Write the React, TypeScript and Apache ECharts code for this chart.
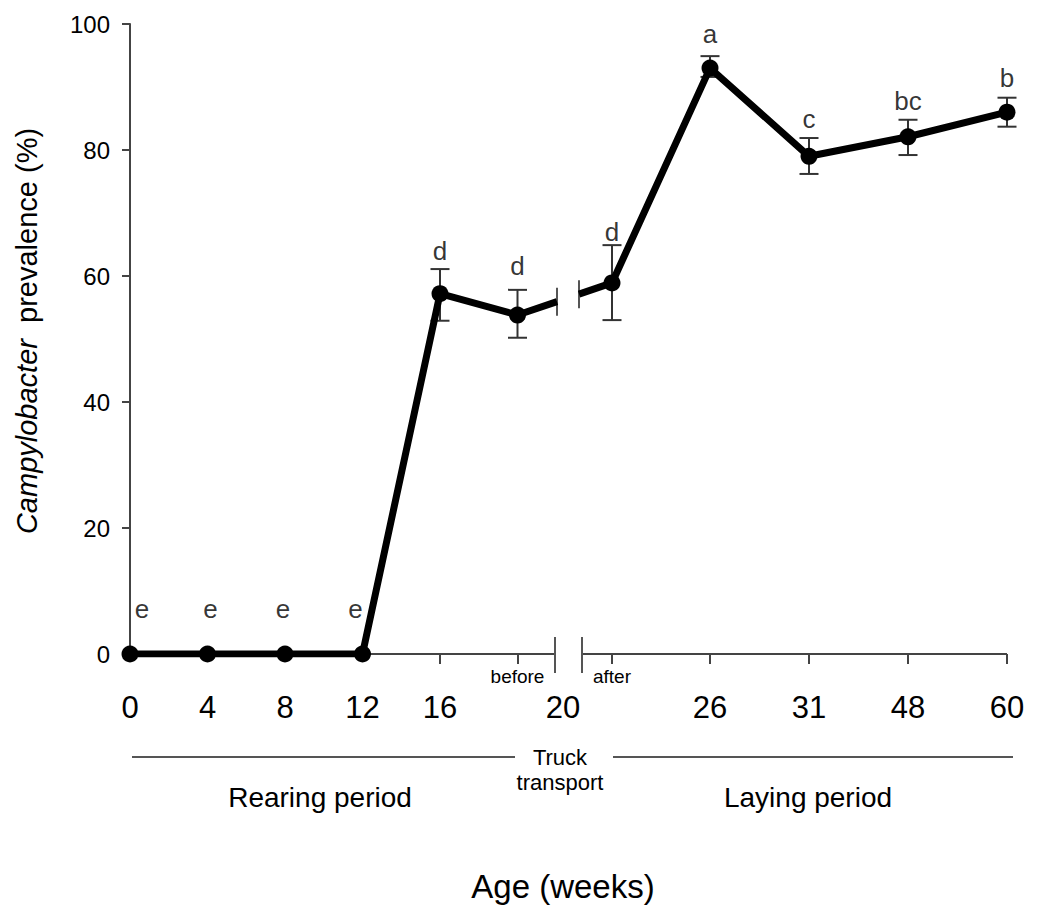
import React, { useEffect, useRef } from "react";
import * as echarts from "echarts";

// ---- data ----
const pointLabels = ["0", "4", "8", "12", "16", "before", "after", "26", "31", "48", "60"];
// horizontal slot of each sampling (axis units; the axis is broken around week 20)
const pointSlot = [0, 77.5, 155, 232.5, 310, 387.5, 482, 580, 679, 778, 877];
const prevalence = [0, 0, 0, 0, 57.2, 53.8, 58.9, 93.0, 79.0, 82.1, 86.0];
const errLow = [null, null, null, null, 52.9, 50.2, 53.0, 91.6, 76.2, 79.2, 83.7];
const errHigh = [null, null, null, null, 61.1, 57.8, 64.9, 94.9, 81.9, 84.8, 88.3];
const letters = ["e", "e", "e", "e", "d", "d", "d", "a", "c", "bc", "b"];
const letterLevel = [7.1, 7.1, 7.1, 7.1, 64.0, 61.6, 67.0, 98.4, 84.9, 87.8, 91.4];

const weekTickLabels = ["0", "4", "8", "12", "16", "20", "26", "31", "48", "60"];
const weekTickSlot = [0, 77.5, 155, 232.5, 310, 433, 580, 679, 778, 877];
const subTickLabels = ["before", "after"];
const subTickSlot = [387.5, 482];
const tickSlot = [310, 387.5, 482, 580, 679, 778, 877];
const axisBreak = [425, 452];
const lineBreak = [427, 449];
const yTicks = [0, 20, 40, 60, 80, 100];

const FONT = "'Liberation Sans', Arial, Helvetica, sans-serif";
const AXIS_COLOR = "#444";
const TEXT_COLOR = "#000";
const LETTER_NUDGE: Record<number, number> = { 0: 12, 1: 3, 2: -2, 3: -7 };

export default function App() {
  const ref = useRef<HTMLDivElement>(null);

  useEffect(() => {
    const el = ref.current;
    if (!el) return;
    const chart = echarts.init(el, null, { renderer: "svg" });

    const bIdx = pointLabels.indexOf("before");
    const aIdx = pointLabels.indexOf("after");
    const slope = (prevalence[aIdx] - prevalence[bIdx]) / (pointSlot[aIdx] - pointSlot[bIdx]);
    const yAt = (x: number) => prevalence[bIdx] + slope * (x - pointSlot[bIdx]);

    const leftData: any[] = [];
    for (let i = 0; i <= bIdx; i++) leftData.push([pointSlot[i], prevalence[i]]);
    leftData.push({ value: [lineBreak[0], yAt(lineBreak[0])], symbol: "none" });
    const rightData: any[] = [{ value: [lineBreak[1], yAt(lineBreak[1])], symbol: "none" }];
    for (let i = aIdx; i < pointSlot.length; i++) rightData.push([pointSlot[i], prevalence[i]]);

    const errData: any[] = [];
    for (let i = 0; i < pointSlot.length; i++) {
      if (errLow[i] != null && errHigh[i] != null) errData.push([pointSlot[i], errLow[i], errHigh[i]]);
    }

    const letterData = letters.map((t, i) => ({
      value: [pointSlot[i], letterLevel[i]],
      name: t,
      label: LETTER_NUDGE[i] != null ? { offset: [LETTER_NUDGE[i], 0] } : undefined,
    }));

    const lineStyle = { color: "#000", width: 7 };
    const option: any = {
      animation: false,
      grid: { left: 130, top: 24, width: 877, height: 630, containLabel: false },
      xAxis: [
        {
          type: "value",
          min: 0,
          max: 877,
          axisLine: { show: false },
          splitLine: { show: false },
          axisTick: {
            show: true,
            customValues: tickSlot,
            length: 10,
            lineStyle: { color: AXIS_COLOR, width: 2 },
          },
          axisLabel: {
            customValues: weekTickSlot,
            formatter: (v: number) => {
              const k = weekTickSlot.findIndex((s) => Math.abs(s - v) < 0.01);
              return k >= 0 ? weekTickLabels[k] : "";
            },
            fontSize: 31,
            fontFamily: FONT,
            color: TEXT_COLOR,
            margin: 38,
          },
        },
        {
          type: "value",
          min: 0,
          max: 877,
          position: "bottom",
          axisLine: { show: false },
          axisTick: { show: false },
          splitLine: { show: false },
          axisLabel: {
            customValues: subTickSlot,
            formatter: (v: number) => {
              const k = subTickSlot.findIndex((s) => Math.abs(s - v) < 0.01);
              return k >= 0 ? subTickLabels[k] : "";
            },
            fontSize: 19,
            fontFamily: FONT,
            color: TEXT_COLOR,
            margin: 13,
          },
        },
      ],
      yAxis: {
        type: "value",
        min: 0,
        max: 100,
        interval: 20,
        axisLine: { show: true, lineStyle: { color: AXIS_COLOR, width: 2 } },
        axisTick: { show: true, length: 8, lineStyle: { color: AXIS_COLOR, width: 2 } },
        splitLine: { show: false },
        axisLabel: {
          fontSize: 24,
          fontFamily: FONT,
          color: TEXT_COLOR,
          margin: 20,
          formatter: (v: number) => (yTicks.includes(v) ? String(v) : ""),
        },
      },
      series: [
        {
          type: "custom",
          name: "error",
          z: 1,
          data: errData,
          encode: { x: 0, y: [1, 2] },
          renderItem: (params: any, api: any) => {
            const x = api.value(0);
            const lo = api.coord([x, api.value(1)]);
            const hi = api.coord([x, api.value(2)]);
            const w = 9.5;
            const st = { stroke: "#333", lineWidth: 2 };
            return {
              type: "group",
              children: [
                { type: "line", shape: { x1: lo[0], y1: lo[1], x2: hi[0], y2: hi[1] }, style: st },
                { type: "line", shape: { x1: lo[0] - w, y1: lo[1], x2: lo[0] + w, y2: lo[1] }, style: st },
                { type: "line", shape: { x1: hi[0] - w, y1: hi[1], x2: hi[0] + w, y2: hi[1] }, style: st },
              ],
            };
          },
        },
        {
          type: "line",
          name: "before transport",
          z: 3,
          data: leftData,
          symbol: "circle",
          symbolSize: 17,
          lineStyle,
          itemStyle: { color: "#000" },
        },
        {
          type: "line",
          name: "after transport",
          z: 3,
          data: rightData,
          symbol: "circle",
          symbolSize: 17,
          lineStyle,
          itemStyle: { color: "#000" },
        },
        {
          type: "scatter",
          name: "letters",
          z: 4,
          data: letterData,
          symbol: "circle",
          symbolSize: 1,
          itemStyle: { color: "rgba(0,0,0,0)" },
          label: {
            show: true,
            position: "inside",
            formatter: (p: any) => p.name,
            fontSize: 26,
            fontFamily: FONT,
            color: TEXT_COLOR,
          },
        },
      ],
    };
    chart.setOption(option);

    const px = (x: number, y: number) => chart.convertToPixel({ gridIndex: 0 }, [x, y]) as number[];
    const p0 = px(0, 0);
    const pBL = px(axisBreak[0], 0);
    const pBR = px(axisBreak[1], 0);
    const pEnd = px(877, 0);
    const lbL = px(lineBreak[0], yAt(lineBreak[0]));
    const lbR = px(lineBreak[1], yAt(lineBreak[1]));
    const axisSt = { stroke: AXIS_COLOR, lineWidth: 2 };
    const brkSt = { stroke: "#555", lineWidth: 2 };
    const textSt = (text: string, size: number) => ({
      text,
      fontSize: size,
      fontFamily: FONT,
      fill: TEXT_COLOR,
      align: "center",
      verticalAlign: "middle",
    });

    chart.setOption({
      graphic: [
        { type: "line", shape: { x1: p0[0], y1: p0[1], x2: pBL[0], y2: pBL[1] }, style: axisSt, z: 0 },
        { type: "line", shape: { x1: pBR[0], y1: pBR[1], x2: pEnd[0], y2: pEnd[1] }, style: axisSt, z: 0 },
        { type: "line", shape: { x1: pBL[0], y1: pBL[1] - 17, x2: pBL[0], y2: pBL[1] + 19 }, style: brkSt },
        { type: "line", shape: { x1: pBR[0], y1: pBR[1] - 17, x2: pBR[0], y2: pBR[1] + 19 }, style: brkSt },
        { type: "line", shape: { x1: lbL[0], y1: lbL[1] - 14, x2: lbL[0], y2: lbL[1] + 14 }, style: brkSt },
        { type: "line", shape: { x1: lbR[0], y1: lbR[1] - 14, x2: lbR[0], y2: lbR[1] + 14 }, style: brkSt },
        // period underline
        { type: "line", shape: { x1: 132, y1: 757, x2: 515, y2: 757 }, style: { stroke: "#555", lineWidth: 2 } },
        { type: "line", shape: { x1: 613, y1: 757, x2: 1013, y2: 757 }, style: { stroke: "#555", lineWidth: 2 } },
        { type: "text", x: 560, y: 757, style: textSt("Truck", 22) },
        { type: "text", x: 560, y: 782, style: textSt("transport", 22) },
        { type: "text", x: 320, y: 797, style: textSt("Rearing period", 28) },
        { type: "text", x: 808, y: 797, style: textSt("Laying period", 28) },
        { type: "text", x: 563, y: 886, style: textSt("Age (weeks)", 33) },
        {
          type: "text",
          x: 27,
          y: 331,
          rotation: Math.PI / 2,
          style: {
            text: "{i|Campylobacter}  prevalence (%)",
            fontSize: 29,
            fontFamily: FONT,
            fill: TEXT_COLOR,
            align: "center",
            verticalAlign: "middle",
            rich: {
              i: { fontStyle: "italic", fontSize: 29, fontFamily: FONT, fill: TEXT_COLOR },
            },
          },
        },
      ],
    });

    return () => chart.dispose();
  }, []);

  return (
    <div
      ref={ref}
      style={{ position: "absolute", left: 0, top: 0, width: 1043, height: 909, background: "#fff" }}
    />
  );
}
